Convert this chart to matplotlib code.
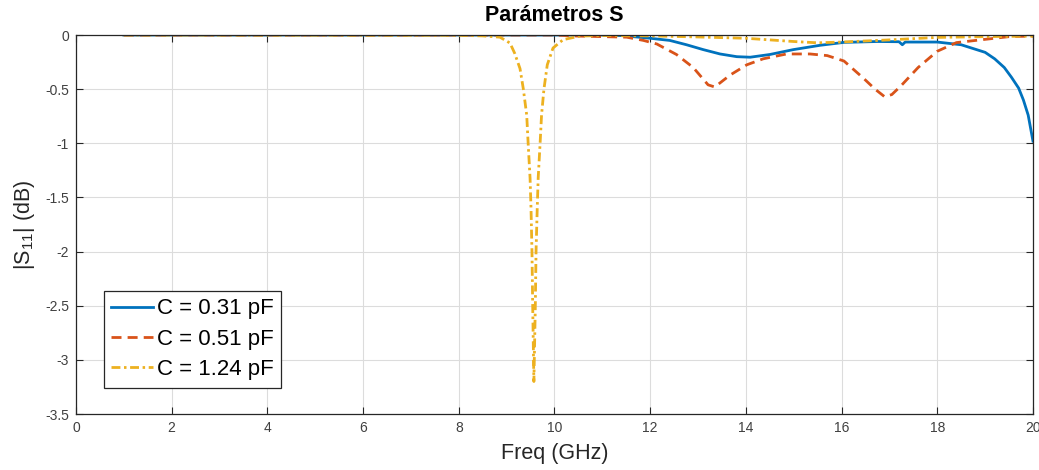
import matplotlib
matplotlib.use("Agg")
import matplotlib.pyplot as plt
from matplotlib.ticker import FuncFormatter

plt.rcParams['font.family'] = ['Liberation Sans', 'DejaVu Sans']
plt.rcParams['mathtext.default'] = 'regular'

# C = 0.31 pF
f_031 = [1.0, 11.0, 11.4, 12.0, 12.41, 12.76, 13.11, 13.46, 13.81, 14.09, 14.5, 14.99,
         15.55, 16.05, 16.75, 17.2, 17.27, 17.33, 18.0, 18.5, 19.0, 19.2, 19.4, 19.55,
         19.7, 19.8, 19.9, 20.0]
s_031 = [0.0, 0.0, -0.005, -0.03, -0.05, -0.09, -0.135, -0.175, -0.2, -0.205, -0.18, -0.135,
         -0.095, -0.068, -0.06, -0.062, -0.09, -0.065, -0.065, -0.09, -0.16, -0.22, -0.3, -0.39,
         -0.49, -0.6, -0.74, -0.98]

# C = 0.51 pF
f_051 = [1.0, 10.0, 10.5, 11.0, 11.51, 11.86, 12.14, 12.55, 12.9, 13.21, 13.35, 13.67,
         14.02, 14.36, 14.85, 15.34, 15.7, 16.05, 16.46, 16.7, 16.9, 17.05, 17.24, 17.6,
         18.0, 18.4, 19.0, 19.5, 20.0]
s_051 = [0.0, 0.0, -0.01, -0.015, -0.02, -0.05, -0.083, -0.18, -0.3, -0.46, -0.48, -0.37,
         -0.275, -0.22, -0.175, -0.175, -0.19, -0.24, -0.4, -0.5, -0.57, -0.55, -0.47, -0.3,
         -0.15, -0.07, -0.04, -0.015, -0.01]

# C = 1.24 pF
f_124 = [1.0, 8.0, 8.5, 8.86, 9.07, 9.17, 9.28, 9.35, 9.42, 9.45, 9.49, 9.51, 9.53, 9.545,
         9.57, 9.60, 9.615, 9.64, 9.66, 9.70, 9.73, 9.78, 9.85, 9.97, 10.18, 10.53, 11.0,
         12.0, 13.0, 14.0, 14.5, 15.0, 15.5, 16.0, 17.0, 18.0, 19.0, 20.0]
s_124 = [0.0, -0.003, -0.008, -0.02, -0.074, -0.17, -0.31, -0.5, -0.74, -1.0, -1.32, -1.6,
         -2.0, -2.5, -3.2, -2.5, -2.0, -1.6, -1.32, -1.0, -0.74, -0.5, -0.275, -0.12, -0.043,
         -0.01, -0.005, -0.008, -0.018, -0.03, -0.045, -0.06, -0.072, -0.065, -0.045, -0.022,
         -0.015, -0.01]

labels = ['C = 0.31 pF', 'C = 0.51 pF', 'C = 1.24 pF']
colors = ['#0072BD', '#D95319', '#EDB120']

fig = plt.figure(figsize=(10.39, 4.70), dpi=100)
ax = fig.add_axes([0.0731, 0.1191, 0.9211, 0.8064])

ax.plot(f_031, s_031, color=colors[0], lw=2.0, ls='-', label=labels[0])
ax.plot(f_051, s_051, color=colors[1], lw=2.0, ls=(0, (3.6, 2.2)), label=labels[1])
ax.plot(f_124, s_124, color=colors[2], lw=2.0, ls=(0, (3.2, 1.3, 0.9, 1.3)), label=labels[2])

ax.set_xlim(0, 20)
ax.set_ylim(-3.5, 0)
ax.set_xticks(range(0, 21, 2))
ax.set_yticks([-3.5, -3, -2.5, -2, -1.5, -1, -0.5, 0])
ax.yaxis.set_major_formatter(FuncFormatter(lambda v, p: '%g' % v))
ax.tick_params(direction='in', top=True, right=True, labelsize=10,
               labelcolor='#404040', color='#262626', length=5, pad=5)
ax.grid(True, color='#dcdcdc', lw=0.8)
for s in ax.spines.values():
    s.set_color('#262626')
    s.set_linewidth(0.9)

ax.set_title('Parámetros S', fontsize=15.5, fontweight='bold', pad=10)
ax.set_xlabel('Freq (GHz)', fontsize=15.5, color='#262626', labelpad=6)
ax.set_ylabel('|S$_{11}$| (dB)', fontsize=15.5, color='#262626', labelpad=6)

leg = ax.legend(loc='lower left', bbox_to_anchor=(0.029, 0.069), borderaxespad=0,
                fontsize=16, handlelength=1.85, handletextpad=0.18, fancybox=False,
                framealpha=1, edgecolor='#262626', borderpad=0.35, labelspacing=0.42)
leg.get_frame().set_linewidth(0.9)

fig.savefig('out.png', dpi=100)
